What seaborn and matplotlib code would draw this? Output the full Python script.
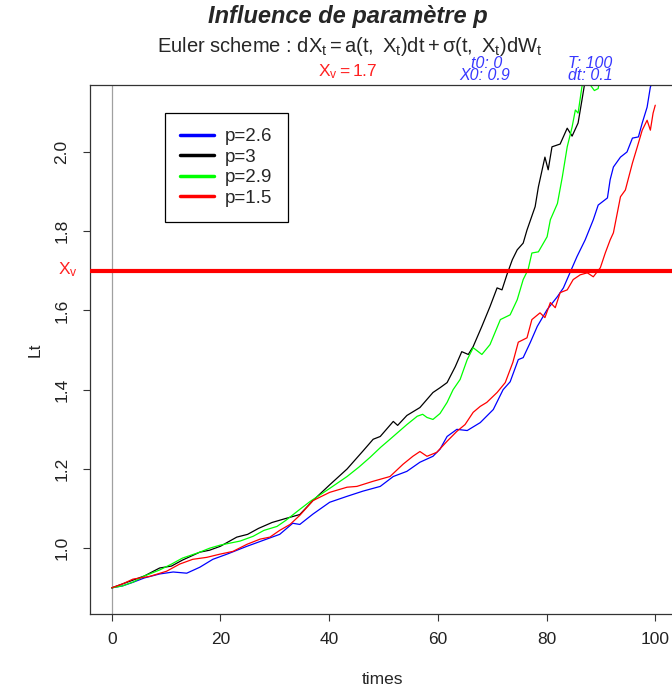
# %%
import pandas as pd
import matplotlib.pyplot as plt
import seaborn as sns

# %% values (times, Lt) for each p
t_blue = [0, 2, 3.9, 6, 8.8, 11.3, 13.8, 16.2, 18.6, 21.2, 24.9, 28.5, 30.9, 33.3, 34.6,
          37, 40.1, 43.3, 46.2, 49.4, 51.8, 54.3, 56.7, 59.1, 60.4, 61.7, 63.5, 65.4, 67.8,
          70.2, 72, 73.3, 74.8, 75.7, 77, 78.3, 80.1, 82, 83.1, 84.3, 85.6, 87.1, 88.6, 89.5,
          91.2, 91.7, 92.3, 93.6, 94.8, 95.8, 96.9, 97.6, 98.5, 99.1, 100]
lt_blue = [0.90, 0.905, 0.914, 0.925, 0.935, 0.94, 0.937, 0.952, 0.972, 0.985, 1.005, 1.023,
           1.035, 1.063, 1.06, 1.086, 1.116, 1.131, 1.144, 1.156, 1.181, 1.194, 1.217, 1.232,
           1.25, 1.282, 1.30, 1.297, 1.317, 1.35, 1.40, 1.42, 1.476, 1.481, 1.519, 1.56, 1.602,
           1.635, 1.657, 1.695, 1.736, 1.778, 1.829, 1.866, 1.884, 1.93, 1.962, 1.987, 2.0,
           2.035, 2.038, 2.073, 2.113, 2.164, 2.19]

t_black = [0, 2, 4, 6, 8.8, 11, 13, 16.2, 18, 20, 23, 25, 27, 29.5, 32, 34.6, 37, 40.1, 43.3,
           46.2, 48.1, 49.4, 51.8, 52.6, 54.3, 56.7, 59.1, 60.4, 61.7, 63.2, 64.4, 65.6, 66.5,
           68.1, 69.6, 70.9, 71.8, 72.7, 73.7, 74.6, 75.7, 76.4, 77.9, 78.5, 79.7, 80.3, 81.0,
           82.5, 83.8, 84.7, 85.8, 86.5, 87.1, 88.0]
lt_black = [0.90, 0.91, 0.92, 0.93, 0.95, 0.955, 0.97, 0.99, 0.995, 1.005, 1.028, 1.035, 1.05,
            1.065, 1.075, 1.085, 1.12, 1.16, 1.2, 1.245, 1.275, 1.282, 1.32, 1.31, 1.335,
            1.355, 1.393, 1.405, 1.418, 1.458, 1.496, 1.489, 1.509, 1.56, 1.61, 1.657, 1.652,
            1.69, 1.728, 1.753, 1.77, 1.803, 1.862, 1.912, 1.987, 1.955, 2.013, 2.02, 2.06,
            2.04, 2.073, 2.13, 2.18, 2.24]

t_green = [0, 2, 4, 6, 8.8, 11, 13, 16.2, 18, 20, 23.6, 26, 28, 30.4, 32, 34.6, 36.5, 40,
           43.3, 45.5, 47.5, 49.5, 51.2, 54.3, 56.2, 57.2, 58.0, 59.1, 60.4, 61.7, 62.8, 64.1,
           65.4, 66.5, 68.1, 69.6, 71.5, 73.3, 74.6, 75.7, 76.6, 77.3, 78.5, 80.1, 80.7, 82.0,
           82.9, 83.8, 84.7, 85.3, 85.8, 86.5, 87.2, 88.0, 88.8, 89.5, 90.2]
lt_green = [0.90, 0.905, 0.915, 0.93, 0.945, 0.96, 0.975, 0.99, 1.0, 1.008, 1.018, 1.03,
            1.045, 1.055, 1.07, 1.098, 1.118, 1.15, 1.181, 1.205, 1.229, 1.255, 1.275, 1.312,
            1.333, 1.338, 1.33, 1.325, 1.34, 1.368, 1.40, 1.426, 1.476, 1.506, 1.489, 1.514,
            1.577, 1.589, 1.627, 1.678, 1.703, 1.745, 1.748, 1.786, 1.829, 1.87, 1.937, 2.013,
            2.063, 2.106, 2.098, 2.164, 2.20, 2.17, 2.155, 2.16, 2.22]

t_red = [0, 2, 3.9, 7, 10.1, 12.5, 14.9, 17.5, 19.9, 22.3, 24.9, 27.3, 29.1, 30.9, 32.8, 34.6,
         37, 40.1, 43.3, 45.1, 48.1, 51.2, 53.6, 55.4, 56.7, 58, 59.8, 61.7, 63.5, 65, 66.5,
         67.8, 69, 70.9, 72.4, 73.8, 74.8, 76.4, 77.3, 78.8, 79.7, 80.7, 81.6, 82.5, 83.8, 84.9,
         86.2, 87.5, 88.6, 89.9, 90.8, 91.7, 92.3, 93.6, 94.5, 95.8, 96.7, 97.6, 98.5, 99.1,
         99.6, 100]
lt_red = [0.90, 0.91, 0.922, 0.929, 0.942, 0.96, 0.972, 0.977, 0.985, 0.992, 1.01, 1.023, 1.028,
          1.045, 1.06, 1.083, 1.12, 1.141, 1.154, 1.156, 1.169, 1.181, 1.212, 1.232, 1.244,
          1.232, 1.242, 1.27, 1.295, 1.312, 1.343, 1.358, 1.368, 1.393, 1.418, 1.469, 1.52,
          1.531, 1.577, 1.594, 1.582, 1.62, 1.607, 1.645, 1.652, 1.678, 1.69, 1.695, 1.685,
          1.708, 1.745, 1.778, 1.796, 1.887, 1.904, 1.972, 2.013, 2.055, 2.08, 2.055, 2.098,
          2.118]

p_labels = ["p=2.6", "p=3", "p=2.9", "p=1.5"]
colors = {"p=2.6": "#0000FF", "p=3": "#000000", "p=2.9": "#00FF00", "p=1.5": "#FF0000"}
x_v = 1.7
x_ticks = [0, 20, 40, 60, 80, 100]
y_ticks = [1.0, 1.2, 1.4, 1.6, 1.8, 2.0]

# %%
df = pd.concat(
    [
        pd.DataFrame({"times": t, "Lt": v, "p": lab})
        for t, v, lab in zip(
            [t_blue, t_black, t_green, t_red],
            [lt_blue, lt_black, lt_green, lt_red],
            p_labels,
        )
    ],
    ignore_index=True,
)

sns.set_style("ticks")
plt.rcParams["font.family"] = ["Liberation Sans", "DejaVu Sans"]
plt.rcParams["mathtext.fontset"] = "custom"
plt.rcParams["mathtext.rm"] = "Liberation Sans"
plt.rcParams["mathtext.it"] = "Liberation Sans"
plt.rcParams["mathtext.sf"] = "Liberation Sans"

W, H = 672, 691
fig = plt.figure(figsize=(W / 100, H / 100), dpi=100)
ax = fig.add_axes([90 / W, 1 - 614 / H, 587 / W, 529 / H])

ax.axvline(0, color="#a0a0a0", lw=0.9, zorder=1)
sns.lineplot(
    data=df, x="times", y="Lt", hue="p", hue_order=p_labels, palette=colors,
    estimator=None, sort=False, lw=0.9, ax=ax,
)
ax.axhline(x_v, color="#FF0000", lw=3, zorder=5)

ax.set_xlim(-4, 104)
ax.set_ylim(0.834, 2.169)
ax.set_xticks(x_ticks)
ax.set_yticks(y_ticks)
ax.set_yticklabels([f"{v:.1f}" for v in y_ticks], rotation=90, va="center")
ax.tick_params(axis="both", labelsize=12.5, length=5, width=0.8, colors="#333333",
               labelcolor="#222222")
ax.tick_params(axis="x", pad=8)
ax.tick_params(axis="y", pad=10)
for s in ax.spines.values():
    s.set_color("#333333")
    s.set_linewidth(0.9)
ax.set_xlabel("times", fontsize=12.5)
ax.set_ylabel("Lt", fontsize=12.5)
ax.xaxis.set_label_coords((382 - 90) / 587, (614 - 672) / 529)
ax.yaxis.set_label_coords((43 - 90) / 587, 0.5)

handles, labels = ax.get_legend_handles_labels()
leg = ax.legend(
    handles, labels, loc="upper left", bbox_to_anchor=((165 - 90) / 587, (614 - 113) / 529),
    borderaxespad=0, fontsize=13.5, frameon=True, fancybox=False, edgecolor="black",
    framealpha=1, handlelength=1.8, labelspacing=0.18, borderpad=0.8, handletextpad=0.6,
)
leg.get_frame().set_linewidth(0.9)
for ln in leg.get_lines():
    ln.set_linewidth(2.5)


def ftext(px, py, s, **kw):
    fig.text(px / W, 1 - py / H, s, ha="center", va="center", **kw)


ftext(348, 16, "Influence de paramètre p", fontsize=17, fontweight="bold", style="italic")
ftext(350, 46, r"Euler scheme : $dX_t = a(t,\ X_t)dt + \sigma(t,\ X_t)dW_t$", fontsize=14.5)
ftext(348, 72, r"$X_v = 1.7$", fontsize=12.5, color="#FF2020")
ftext(487, 63, "t0: 0", fontsize=11.5, style="italic", color="#3838ff")
ftext(485, 76, "X0: 0.9", fontsize=11.5, style="italic", color="#3838ff")
ftext(590, 63, "T: 100", fontsize=11.5, style="italic", color="#3838ff")
ftext(590, 76, "dt: 0.1", fontsize=11.5, style="italic", color="#3838ff")
ftext(68, 270, r"$X_v$", fontsize=12.5, color="#FF2020")

fig.savefig("out.png", dpi=100)
